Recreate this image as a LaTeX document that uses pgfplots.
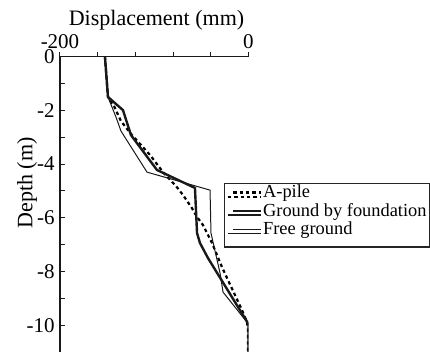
\documentclass[border=0pt]{standalone}
\usepackage{fontspec}
\setmainfont{Liberation Serif}
\usepackage{pgfplots}
\pgfplotsset{compat=1.18}
\begin{document}
\begin{tikzpicture}
\useasboundingbox (-30pt,0pt) rectangle (185pt,176pt);
\begin{axis}[
  scale only axis, width=94.25pt, height=147.65pt,
  at={(0,0)}, anchor=south west,
  xmin=-200, xmax=0, ymin=-11, ymax=0,
  axis x line=top, axis y line=left,
  axis line style={-, line width=0.6pt, black!90},
  xtick={-200,-160,-120,-80,-40,0}, xticklabels={-200,,,,,0},
  ytick={0,-2,-4,-6,-8,-10}, yticklabels={0,-2,-4,-6,-8,-10},
  minor ytick={-1,-3,-5,-7,-9},
  tick align=inside, major tick length=2.5pt, minor tick length=2.5pt,
  tick style={black!90, line width=0.5pt},
  xtick style={yshift=2.5pt},
  ticklabel style={font=\fontsize{10.5}{12}\selectfont},
  yticklabel style={inner sep=0pt, anchor=east, xshift=-2.5pt},
  xticklabel style={inner sep=0pt, anchor=south, yshift=3.8pt},
  every axis x label/.style={at={(axis description cs:0.512,1)}, anchor=south, inner sep=0pt, yshift=12.85pt, font=\fontsize{11}{13}\selectfont},
  every axis y label/.style={at={(axis description cs:0,0.572)}, xshift=-16.5pt, rotate=90, anchor=center, font=\fontsize{11}{13}\selectfont},
  xlabel={Displacement (mm)},
  ylabel={Depth (m)},
  legend style={at={(axis description cs:0.870,0.5723)}, anchor=north west,
    draw=black!85, line width=0.6pt, inner xsep=1pt, inner ysep=2.05pt,
    font=\fontsize{9.2}{11}\selectfont,
    nodes={inner xsep=0.3pt, inner ysep=0pt, text height=5.1pt, text depth=4.1pt},
    row sep=0pt, cells={anchor=west}},
  legend image code/.code={\path (0pt,0pt) -- (16.75pt,0pt); \draw[#1] (2.75pt,2.2pt) -- (16.75pt,2.2pt);},
]
\addplot[black, line width=1.1pt, dash pattern=on 1.7pt off 1.5pt] coordinates {
(-152.3,0) (-149.1,-1.50) (-142.7,-1.84) (-135.3,-2.40) (-123.6,-2.92)
(-104.5,-3.66) (-90.7,-4.30) (-76.9,-4.82) (-69.5,-5.15) (-60.0,-5.64)
(-54.6,-5.97) (-48.3,-6.27) (-44.0,-6.57) (-38.7,-6.94) (-33.4,-7.39)
(-28.1,-7.84) (-21.8,-8.32) (-14.3,-8.88) (-6.9,-9.44) (-1.6,-9.89)
(-0.5,-10.19) (-0.5,-11)
};
\addlegendentry{A-pile}
\addplot[black!90, line width=1.2pt] coordinates {
(-152.3,0) (-149.1,-1.50) (-133.2,-1.99) (-124.7,-2.92) (-97.1,-4.22)
(-56.8,-4.89) (-54.6,-6.57) (-51.5,-6.94) (-43.0,-7.50) (0,-9.96) (0,-11)
};
\addlegendentry{Ground by foundation}
\addplot[black!90, line width=0.5pt] coordinates {
(-152.3,0) (-149.1,-1.50) (-140.6,-2.25) (-135.3,-2.77) (-107.7,-4.30)
(-40.8,-4.97) (-39.8,-6.57) (-30.2,-8.06) (-27.0,-8.77) (0,-9.96) (0,-11)
};
\addlegendentry{Free ground}
\end{axis}
\end{tikzpicture}
\end{document}
